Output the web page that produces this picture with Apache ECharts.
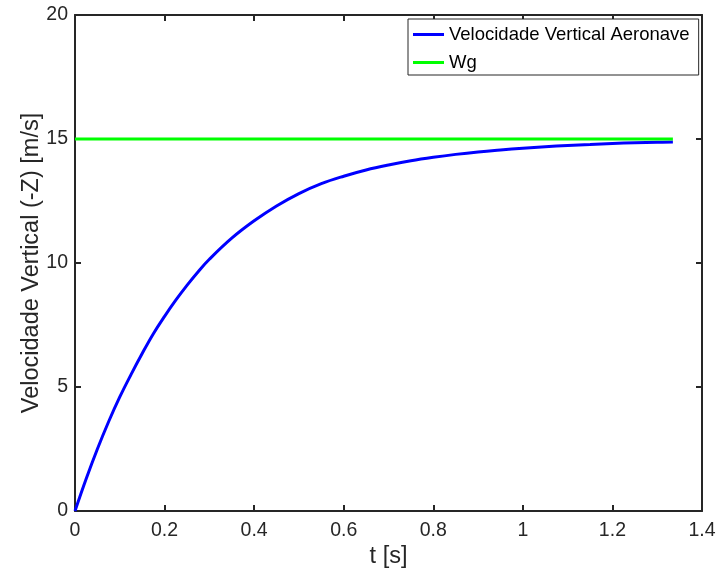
<!DOCTYPE html>
<html>
<head>
<meta charset="utf-8">
<script src="https://cdn.jsdelivr.net/npm/echarts@6/dist/echarts.min.js"></script>
<style>
  html, body { margin: 0; padding: 0; background: #fff; }
  #chart { width: 720px; height: 571px; }
</style>
</head>
<body>
<div id="chart"></div>
<script>
// tempo [s] e velocidade
var tempo = [0, 0.025, 0.05, 0.075, 0.1, 0.125, 0.15, 0.175, 0.2, 0.225, 0.25, 0.275, 0.3,
  0.35, 0.4, 0.45, 0.5, 0.55, 0.6, 0.65, 0.7, 0.75, 0.8, 0.85, 0.9, 0.95, 1.0,
  1.05, 1.1, 1.15, 1.2, 1.25, 1.3, 1.335];
var velAeronave = [0, 1.3, 2.5, 3.6, 4.6, 5.5, 6.35, 7.15, 7.85, 8.5, 9.1, 9.65, 10.15,
  11.0, 11.7, 12.3, 12.8, 13.2, 13.5, 13.75, 13.95, 14.12, 14.26, 14.38, 14.48, 14.56, 14.63,
  14.69, 14.74, 14.78, 14.82, 14.85, 14.87, 14.88];
var tempoWg = [0, 1.335];
var valorWg = [15, 15];
var nomes = ["Velocidade Vertical Aeronave", "Wg"];

var fonte = "Liberation Sans";
var corEixo = "#262626";

function pares(xs, ys) {
  return xs.map(function (x, i) { return [x, ys[i]]; });
}

var chart = echarts.init(document.getElementById("chart"));

var eixoBase = {
  type: "value",
  nameMoveOverlap: false,
  axisLine: { show: true, onZero: false, lineStyle: { color: corEixo, width: 2 } },
  axisTick: { show: true, inside: true, length: 6, lineStyle: { color: corEixo, width: 2 } },
  splitLine: { show: false }
};

chart.setOption({
  backgroundColor: "#fff",
  animation: false,
  grid: { left: 75, right: 18, top: 15, bottom: 60, outerBoundsMode: "none" },
  legend: {
    data: nomes,
    orient: "vertical",
    left: 408,
    top: 19,
    padding: [6, 9, 3, 5],
    itemGap: 9,
    itemWidth: 31,
    itemHeight: 3,
    icon: "rect",
    backgroundColor: "#fff",
    borderColor: corEixo,
    borderWidth: 1,
    borderRadius: 0,
    textStyle: { fontFamily: fonte, fontSize: 18.5, color: "#000" }
  },
  xAxis: [
    Object.assign({}, eixoBase, {
      min: 0, max: 1.4, interval: 0.2,
      position: "bottom",
      name: "t [s]",
      nameLocation: "middle",
      nameGap: 34,
      nameTextStyle: { fontFamily: fonte, fontSize: 23.5, color: corEixo },
      axisLabel: { margin: 10, fontFamily: fonte, fontSize: 19.5, color: corEixo }
    }),
    Object.assign({}, eixoBase, {
      min: 0, max: 1.4, interval: 0.2,
      position: "top",
      axisLabel: { show: false }
    })
  ],
  yAxis: [
    Object.assign({}, eixoBase, {
      min: 0, max: 20, interval: 5,
      position: "left",
      name: "Velocidade Vertical (-Z) [m/s]",
      nameLocation: "middle",
      nameGap: 31,
      nameTextStyle: { fontFamily: fonte, fontSize: 23.5, color: corEixo },
      axisLabel: { margin: 7, fontFamily: fonte, fontSize: 19.5, color: corEixo }
    }),
    Object.assign({}, eixoBase, {
      min: 0, max: 20, interval: 5,
      position: "right",
      axisLabel: { show: false }
    })
  ],
  series: [
    {
      name: nomes[0],
      type: "line",
      showSymbol: false,
      symbol: "none",
      smooth: 0.4,
      lineStyle: { color: "#0000ff", width: 3 },
      itemStyle: { color: "#0000ff" },
      data: pares(tempo, velAeronave)
    },
    {
      name: nomes[1],
      type: "line",
      showSymbol: false,
      symbol: "none",
      lineStyle: { color: "#00ff00", width: 3 },
      itemStyle: { color: "#00ff00" },
      data: pares(tempoWg, valorWg)
    }
  ]
});
</script>
</body>
</html>
